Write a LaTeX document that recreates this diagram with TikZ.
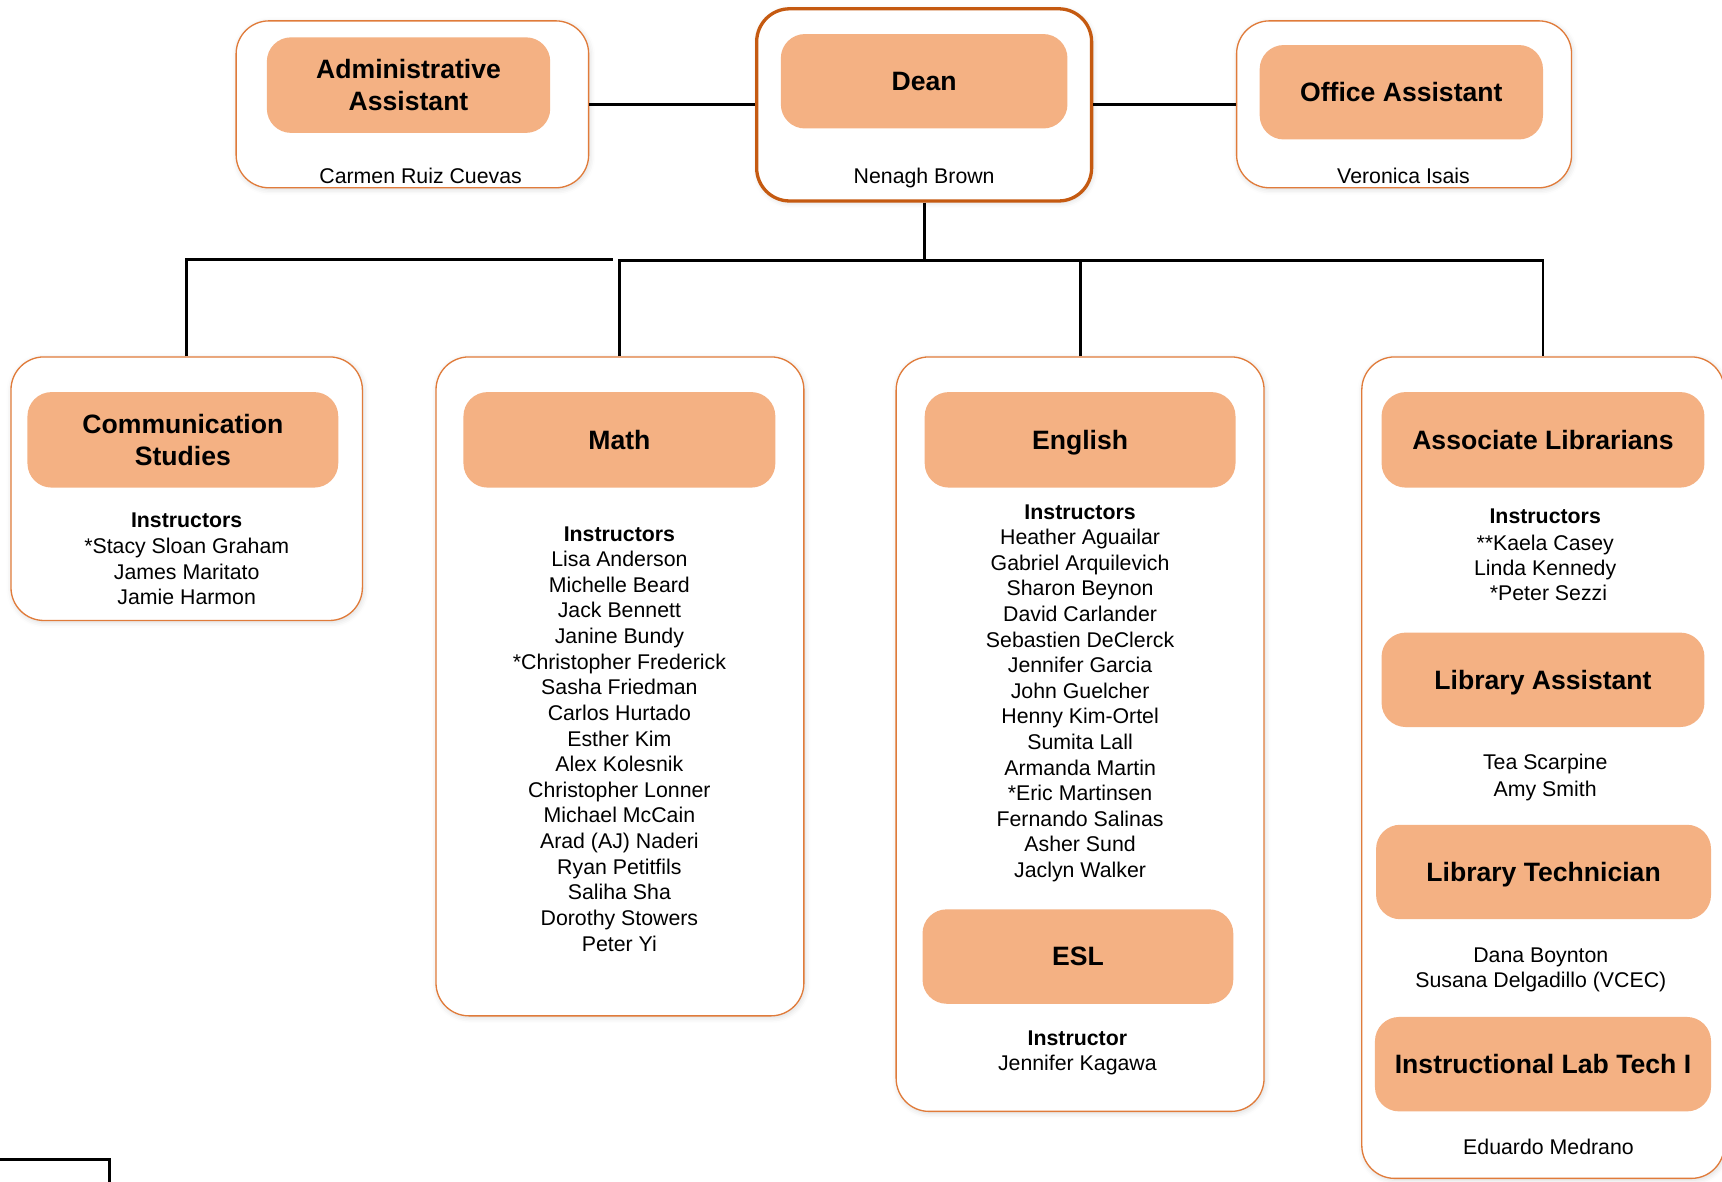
\documentclass[tikz,border=0pt]{standalone}
\usepackage{fontspec}
\setmainfont{Liberation Sans}
\usetikzlibrary{shadows.blur}
\definecolor{pillfill}{HTML}{F4B183}
\definecolor{deanline}{HTML}{C55A11}
\definecolor{boxline}{HTML}{E07B3A}
\newcommand\headfont{\fontsize{12.1}{14.5}\selectfont\bfseries}
\newcommand\namefont{\fontsize{9.7}{11.65}\selectfont}
\newcommand\mkbox[7]{%
  \pgfmathsetmacro\myBW{(#5-#3)*0.5}%
  \pgfmathsetmacro\myBH{(#6-#4)*0.5}%
  \node[#1, minimum width=\myBW pt, minimum height=\myBH pt] (#2) at ({(#3+#5)/2},{(#4+#6)/2}) {#7};}
\tikzset{
  outerbox/.style={draw=boxline, line width=0.6pt, rounded corners=15pt, fill=white, inner sep=0pt,
    blur shadow={shadow xshift=0.5pt, shadow yshift=-0.8pt, shadow blur radius=2.5pt, shadow opacity=15}},
  deanbox/.style={outerbox, draw=deanline, line width=1.5pt},
  pill/.style={fill=pillfill, rounded corners=11pt, inner sep=0pt, align=center, font=\headfont},
  pillone/.style={pill, text depth=0pt},
  nametext/.style={anchor=base, inner sep=0pt, font=\namefont},
  headtext/.style={anchor=base, inner sep=0pt, font=\namefont\bfseries},
  conn/.style={line width=1.35pt, draw=black},
}
\begin{document}
\begin{tikzpicture}[x=0.5pt, y=-0.5pt]
\useasboundingbox (0,0) rectangle (1568,1075.4);
\clip (0,0) rectangle (1568,1075.4);

% outer boxes
\mkbox{outerbox}{admin}{215}{19}{536}{171}{}
\mkbox{deanbox}{dean}{689}{8}{994}{183}{}
\mkbox{outerbox}{office}{1126}{19}{1431}{171}{}
\mkbox{outerbox}{comm}{10}{325}{330}{565}{}
\mkbox{outerbox}{math}{397}{325}{732}{925}{}
\mkbox{outerbox}{eng}{816}{325}{1151}{1012}{}
\mkbox{outerbox}{lib}{1240}{325}{1570}{1073}{}

% connectors
\coordinate (busL) at (558,236.6);
\coordinate (bus) at (841.5,237.6);
\draw[conn] (admin.east) -- (admin.east -| dean.west);
\draw[conn] (dean.east |- office.west) -- (office.west);
\draw[conn] (dean.south) -- (bus);
\draw[conn] (comm.north) |- (busL);
\draw[conn] (math.north) -- (math.north |- bus) -- (bus -| lib.north) -- (lib.north);
\draw[conn] (eng.north) -- (eng.north |- bus);

% pills
\mkbox{pill}{adminp}{243}{34}{501}{121}{Administrative\\Assistant}
\mkbox{pillone}{deanp}{711}{31}{972}{117}{Dean}
\mkbox{pillone}{officep}{1147}{41}{1405}{127}{Office Assistant}
\mkbox{pill}{commp}{25}{357}{308}{444}{Communication\\Studies}
\mkbox{pillone}{mathp}{422}{357}{706}{444}{Math}
\mkbox{pillone}{engp}{842}{357}{1125}{444}{English}
\mkbox{pillone}{eslp}{840}{828}{1123}{914}{ESL}
\mkbox{pillone}{assocp}{1258}{357}{1552}{444}{Associate Librarians}
\mkbox{pillone}{libap}{1258}{576}{1552}{662}{Library Assistant}
\mkbox{pillone}{libtp}{1253}{751}{1558}{837}{Library Technician}
\mkbox{pillone}{iltp}{1252}{926}{1558}{1012}{Instructional Lab Tech I}

% top names
\node[nametext] (adminn) at (383,167) {Carmen Ruiz Cuevas};
\node[nametext] (deann) at (841.5,167) {Nenagh Brown};
\node[nametext] (officen) at (1278,167) {Veronica Isais};

% communication studies
\node[headtext] (commh) at (170,480) {Instructors};
\foreach \t [count=\i] in {*Stacy Sloan Graham, James Maritato, Jamie Harmon}
  \node[nametext] (commn\i) at (170,{504+(\i-1)*23.3}) {\t};

% math
\node[headtext] (mathh) at (564,493) {Instructors};
\foreach \t [count=\i] in {Lisa Anderson, Michelle Beard, Jack Bennett, Janine Bundy,
  *Christopher Frederick, Sasha Friedman, Carlos Hurtado, Esther Kim, Alex Kolesnik,
  Christopher Lonner, Michael McCain, {Arad (AJ) Naderi}, Ryan Petitfils, Saliha Sha,
  Dorothy Stowers, Peter Yi}
  \node[nametext] (mathn\i) at (564,{516+(\i-1)*23.33}) {\t};

% english
\node[headtext] (engh) at (983.5,473) {Instructors};
\foreach \t [count=\i] in {Heather Aguailar, Gabriel Arquilevich, Sharon Beynon,
  David Carlander, Sebastien DeClerck, Jennifer Garcia, John Guelcher, Henny Kim-Ortel,
  Sumita Lall, Armanda Martin, *Eric Martinsen, Fernando Salinas, Asher Sund, Jaclyn Walker}
  \node[nametext] (engn\i) at (983.5,{496+(\i-1)*23.3}) {\t};

% ESL
\node[headtext] (eslh) at (981,952) {Instructor};
\node[nametext] (esln) at (981,975) {Jennifer Kagawa};

% library
\node[headtext] (assoch) at (1407,477) {Instructors};
\node[nametext] (assocn1) at (1407,501) {**Kaela Casey};
\node[nametext] (assocn2) at (1407,524) {Linda Kennedy};
\node[nametext] (assocn3) at (1410,547) {*Peter Sezzi};
\node[nametext] (liban1) at (1407,701) {Tea Scarpine};
\node[nametext] (liban2) at (1407,725) {Amy Smith};
\node[nametext] (libtn1) at (1403,876) {Dana Boynton};
\node[nametext] (libtn2) at (1403,899) {Susana Delgadillo (VCEC)};
\node[nametext] (iltn) at (1410,1051) {Eduardo Medrano};

% partial frame at bottom left
\draw[line width=1.4pt] (-20,1056) -- (100,1056) -- (100,1100);
\end{tikzpicture}
\end{document}
